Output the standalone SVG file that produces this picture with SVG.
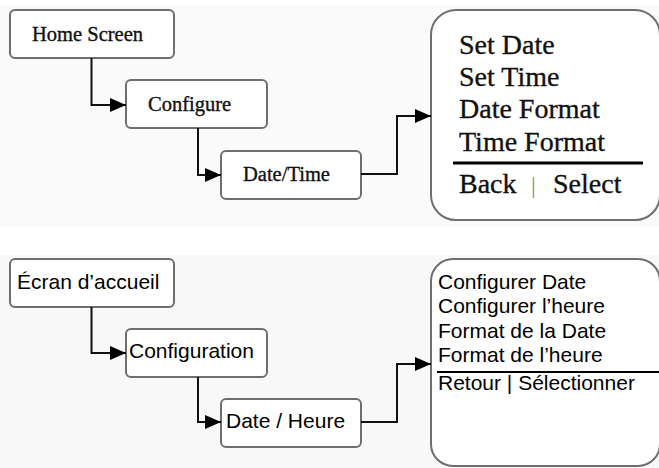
<svg xmlns="http://www.w3.org/2000/svg" width="659" height="468" viewBox="0 0 659 468">
<defs>
<marker id="arr" markerUnits="userSpaceOnUse" markerWidth="17" markerHeight="15" refX="16" refY="7" orient="auto">
<path d="M0,0 L16,7 L0,14 z" fill="#000"/>
</marker>
</defs>
<style>
.box{fill:#fff;stroke:#6e6e6e;stroke-width:2}
.tnr{font-family:"Liberation Serif","Times New Roman",serif;fill:#111;stroke:#111;stroke-width:0.35}
.ari{font-family:"Liberation Sans",Arial,sans-serif;fill:#000}
.con{fill:none;stroke:#111;stroke-width:2;marker-end:url(#arr)}
</style>
<rect x="0" y="5" width="659" height="222" fill="#fafafa"/>
<rect x="0" y="255" width="659" height="213" fill="#f8f8f8"/>

<g id="home-screen">
<rect class="box" x="10" y="10" width="164" height="48" rx="5"/>
<text class="tnr" x="32" y="41" font-size="20.5">Home Screen</text>
</g>
<g id="configure">
<rect class="box" x="126" y="80" width="141" height="48" rx="5"/>
<text class="tnr" x="148" y="111" font-size="20.5">Configure</text>
</g>
<g id="date-time">
<rect class="box" x="221" y="151" width="140" height="48" rx="5"/>
<text class="tnr" x="243" y="181" font-size="20.5">Date/Time</text>
</g>
<g id="menu-en">
<rect class="box" x="431" y="10" width="229" height="210" rx="25"/>
<g class="tnr" font-size="28">
<text x="459" y="54">Set Date</text>
<text x="459" y="86">Set Time</text>
<text x="459" y="118">Date Format</text>
<text x="459" y="151">Time Format</text>
<text x="459" y="193">Back<tspan x="531" font-size="24" fill="#8a8a8a" stroke="none">|</tspan><tspan x="553">Select</tspan></text>
</g>
<line x1="453" y1="163" x2="643" y2="163" stroke="#000" stroke-width="3"/>
</g>

<g id="ecran-accueil">
<rect class="box" x="10" y="259" width="164" height="48" rx="5"/>
<text class="ari" x="17" y="289" font-size="21">Écran d’accueil</text>
</g>
<g id="configuration">
<rect class="box" x="126" y="329" width="141" height="48" rx="5"/>
<text class="ari" x="129" y="358" font-size="21">Configuration</text>
</g>
<g id="date-heure">
<rect class="box" x="221" y="399" width="140" height="48" rx="5"/>
<text class="ari" x="226" y="428" font-size="21">Date / Heure</text>
</g>
<g id="menu-fr">
<rect class="box" x="431" y="259" width="229" height="207" rx="22"/>
<g class="ari" font-size="21">
<text x="438" y="289">Configurer Date</text>
<text x="438" y="313">Configurer l’heure</text>
<text x="438" y="338">Format de la Date</text>
<text x="438" y="362">Format de l’heure</text>
<text x="438" y="390">Retour | Sélectionner</text>
</g>
<line x1="437" y1="372" x2="659" y2="372" stroke="#000" stroke-width="2"/>
</g>

<g id="connectors">
<path class="con" d="M91.5,58 V105 H126"/>
<path class="con" d="M198,128 V175 H221"/>
<path class="con" d="M361,174 H397 V116 H431"/>
<path class="con" d="M91.5,307 V353 H126"/>
<path class="con" d="M198,377 V422 H221"/>
<path class="con" d="M361,422 H397 V364 H431"/>
</g>
</svg>
